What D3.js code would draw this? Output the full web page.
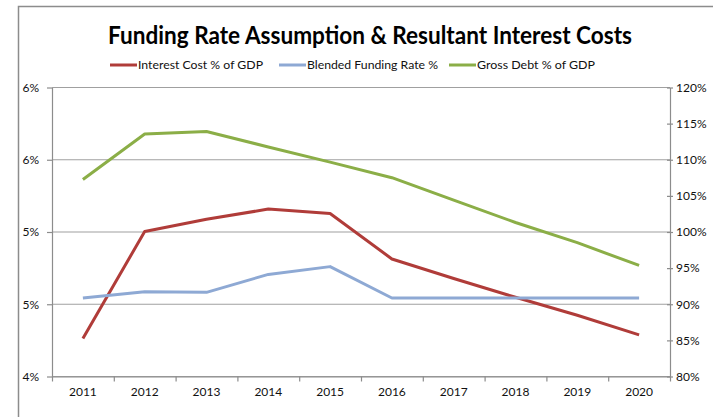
<!DOCTYPE html>
<html>
<head>
<meta charset="utf-8">
<script src="https://cdn.jsdelivr.net/npm/d3@7/dist/d3.min.js"></script>
<style>
  html, body { margin: 0; padding: 0; background: #fff; }
  svg { display: block; font-family: Lato, "Open Sans", sans-serif; }
</style>
</head>
<body>
<svg id="chart" width="713" height="417"></svg>
<script>
// Years along the horizontal axis
const years = ["2011","2012","2013","2014","2015","2016","2017","2018","2019","2020"];

// Left axis series (% of GDP / rate, 4%–6%)
const interestCost = [4.26, 5.0, 5.085, 5.155, 5.125, 4.81, 4.675, 4.545, 4.42, 4.285];
const fundingRate  = [4.54, 4.583, 4.579, 4.703, 4.757, 4.54, 4.54, 4.54, 4.54, 4.54];

// Right axis series (gross debt % of GDP, 80%–120%)
const grossDebt = [107.2, 113.5, 113.85, 111.7, 109.6, 107.45, 104.35, 101.25, 98.45, 95.3];

// Tick values and labels
const leftTicks = [4.0, 4.5, 5.0, 5.5, 6.0];
const leftTickLabels = ["4%", "5%", "5%", "6%", "6%"];
const rightTicks = [80, 85, 90, 95, 100, 105, 110, 115, 120];
const rightTickLabels = ["80%", "85%", "90%", "95%", "100%", "105%", "110%", "115%", "120%"];

const seriesNames = ["Interest Cost % of GDP", "Blended Funding Rate %", "Gross Debt % of GDP"];
const seriesColors = ["#B03C39", "#8EA9D4", "#8BAE47"];

const svg = d3.select("#chart");
const plot = { left: 52, right: 670, top: 87, bottom: 376 };

// Outer chart frame (left and top edges)
svg.append("path")
  .attr("d", "M18.5,417 V6.5 H713")
  .attr("fill", "none").attr("stroke", "#8c8c8c").attr("stroke-width", 1.5);

const x = d3.scaleBand().domain(years).range([plot.left, plot.right]).padding(0);
const cx = d => x(d) + x.bandwidth() / 2;
const yL = d3.scaleLinear().domain([4, 6]).range([plot.bottom, plot.top]);
const yR = d3.scaleLinear().domain([80, 120]).range([plot.bottom, plot.top]);

// Horizontal gridlines on the left-axis ticks
svg.append("g").selectAll("line").data(leftTicks).join("line")
  .attr("x1", plot.left).attr("x2", plot.right)
  .attr("y1", d => yL(d) + 0.5).attr("y2", d => yL(d) + 0.5)
  .attr("stroke", "#a0a0a0").attr("stroke-width", 1.2);

// Left axis
const gL = svg.append("g").attr("transform", `translate(${plot.left},0.5)`)
  .call(d3.axisLeft(yL).tickValues(leftTicks)
    .tickFormat((d, i) => leftTickLabels[i])
    .tickSizeOuter(0).tickSizeInner(5).tickPadding(8));

// Right axis with ticks crossing the line
const gR = svg.append("g").attr("transform", `translate(${plot.right},0.5)`)
  .call(d3.axisRight(yR).tickValues(rightTicks)
    .tickFormat((d, i) => rightTickLabels[i])
    .tickSizeOuter(0).tickSizeInner(3).tickPadding(3));
gR.selectAll(".tick line").attr("x1", -3);

// Bottom axis: labels centred in each band, ticks at band boundaries
const gB = svg.append("g").attr("transform", `translate(0,${plot.bottom + 0.5})`)
  .call(d3.axisBottom(x).tickSize(0).tickPadding(11).tickSizeOuter(0));
const bounds = years.map(d => x(d)).concat([plot.right]);
gB.selectAll("line.bound").data(bounds).join("line").attr("class", "bound")
  .attr("x1", d => d + 0.5).attr("x2", d => d + 0.5)
  .attr("y1", 0).attr("y2", 5);

[gL, gR, gB].forEach(g => {
  g.selectAll(".domain").attr("stroke", "#8c8c8c").attr("stroke-width", 1.2);
  g.selectAll("line").attr("stroke", "#8c8c8c").attr("stroke-width", 1.2);
  g.selectAll("text").attr("font-family", "Lato, sans-serif")
    .attr("font-size", 12).attr("fill", "#111");
});

// Series lines
const lineL = d3.line().x((d, i) => cx(years[i])).y(d => yL(d));
const lineR = d3.line().x((d, i) => cx(years[i])).y(d => yR(d));
const seriesPaths = [lineL(interestCost), lineL(fundingRate), lineR(grossDebt)];
svg.append("g").selectAll("path").data(seriesPaths).join("path")
  .attr("d", d => d)
  .attr("fill", "none")
  .attr("stroke", (d, i) => seriesColors[i])
  .attr("stroke-width", 3)
  .attr("stroke-linejoin", "round");

// Title
svg.append("text")
  .attr("x", 370).attr("y", 44)
  .attr("text-anchor", "middle")
  .attr("font-family", "Lato, sans-serif")
  .attr("font-weight", "bold")
  .attr("font-size", 24)
  .attr("fill", "#000")
  .attr("textLength", 524).attr("lengthAdjust", "spacingAndGlyphs")
  .text("Funding Rate Assumption & Resultant Interest Costs");

// Legend
const legendX = [110, 279, 449];
const legendTextW = [125, 131, 118];
const leg = svg.append("g").selectAll("g").data(seriesNames).join("g")
  .attr("transform", (d, i) => `translate(${legendX[i]},65)`);
leg.append("line").attr("x1", 0).attr("x2", 27).attr("y1", 0).attr("y2", 0)
  .attr("stroke", (d, i) => seriesColors[i]).attr("stroke-width", 3);
leg.append("text").attr("x", 28).attr("y", 4)
  .attr("font-family", "Lato, sans-serif").attr("font-size", 12).attr("fill", "#111")
  .attr("textLength", (d, i) => legendTextW[i]).attr("lengthAdjust", "spacingAndGlyphs")
  .text(d => d);
</script>
</body>
</html>
